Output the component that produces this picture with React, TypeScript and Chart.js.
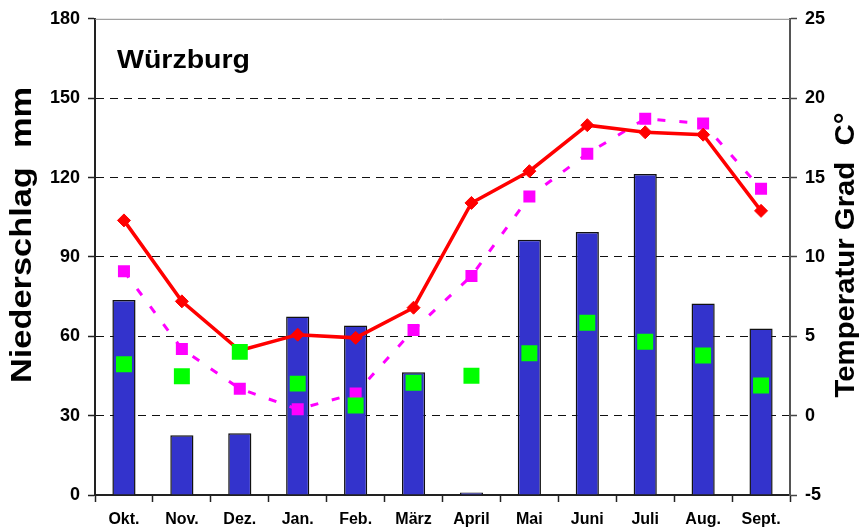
import React, { useEffect, useRef } from 'react';
import { Chart, registerables } from 'chart.js';

Chart.register(...registerables);

const months = ['Okt.', 'Nov.', 'Dez.', 'Jan.', 'Feb.', 'März', 'April', 'Mai', 'Juni', 'Juli', 'Aug.', 'Sept.'];
const niederschlag = [73.7, 22.6, 23.3, 67.5, 64.1, 46.4, 0.9, 96.5, 99.4, 121.3, 72.4, 62.9];
const niederschlagMittel = [49.4, 44.9, 54.1, 42.1, 33.8, 42.4, 45.1, 53.6, 65.1, 57.9, 52.7, 41.4];
const temperatur = [12.3, 7.2, 4.1, 5.1, 4.9, 6.8, 13.4, 15.4, 18.3, 17.85, 17.7, 12.9];
const temperaturMittel = [9.1, 4.2, 1.7, 0.4, 1.4, 5.4, 8.8, 13.8, 16.5, 18.7, 18.4, 14.3];

const stationName = 'Würzburg';
const leftTitle = 'Niederschlag  mm';
const rightTitle = 'Temperatur Grad  C°';

const FONT = '"Liberation Sans", Arial, sans-serif';

const titlePlugin = {
  id: 'customTitles',
  beforeDatasetsDraw(chart: any) {
    const ctx = chart.ctx;
    const a = chart.chartArea;
    ctx.save();
    ctx.strokeStyle = '#8a8a8a';
    ctx.lineWidth = 1;
    ctx.beginPath();
    ctx.moveTo(a.left, a.top + 0.5);
    ctx.lineTo(a.right, a.top + 0.5);
    ctx.stroke();
    ctx.restore();
  },
  afterDraw(chart: any) {
    const ctx = chart.ctx;
    const draw = (text: string, x: number, y: number, rot: number, size: number, targetLen: number, align: any, baseline: any) => {
      ctx.save();
      ctx.font = `bold ${size}px ${FONT}`;
      const w = ctx.measureText(text).width;
      ctx.translate(x, y);
      ctx.rotate(rot);
      ctx.scale(targetLen / w, 1);
      ctx.textAlign = align;
      ctx.textBaseline = baseline;
      ctx.fillStyle = '#000';
      ctx.fillText(text, 0, 0);
      ctx.restore();
    };
    draw(stationName, 117, 68, 0, 25, 133, 'left', 'alphabetic');
    draw(leftTitle, 23, 235, -Math.PI / 2, 30, 296, 'center', 'middle');
    draw(rightTitle, 846, 255, -Math.PI / 2, 28, 285, 'center', 'middle');
  },
};

export default function App() {
  const ref = useRef<HTMLCanvasElement | null>(null);

  useEffect(() => {
    if (!ref.current) return;
    const chart = new Chart(ref.current, {
      type: 'bar',
      data: {
        labels: months,
        datasets: [
          {
            type: 'line',
            label: 'Niederschlag Mittel',
            data: niederschlagMittel,
            yAxisID: 'y',
            showLine: false,
            pointStyle: 'rect',
            pointRadius: 11.3,
            pointBackgroundColor: '#00ff00',
            pointBorderWidth: 0,
            borderColor: '#00ff00',
            order: 0,
          } as any,
          {
            type: 'line',
            label: 'Temperatur',
            data: temperatur,
            yAxisID: 'y1',
            borderColor: '#ff0000',
            borderWidth: 3.5,
            tension: 0,
            pointStyle: 'rectRot',
            pointRadius: 6.5,
            pointBackgroundColor: '#ff0000',
            pointBorderColor: '#ff0000',
            pointBorderWidth: 1,
            order: 1,
          } as any,
          {
            type: 'line',
            label: 'Temperatur Mittel',
            data: temperaturMittel,
            yAxisID: 'y1',
            borderColor: '#ff00ff',
            borderWidth: 3,
            borderDash: [8, 14],
            tension: 0,
            pointStyle: 'rect',
            pointRadius: 8.5,
            pointBackgroundColor: '#ff00ff',
            pointBorderWidth: 0,
            order: 2,
          } as any,
          {
            type: 'bar',
            label: 'Niederschlag',
            data: niederschlag,
            yAxisID: 'y',
            backgroundColor: '#3333cc',
            borderColor: '#111111',
            borderWidth: 1.5,
            barPercentage: 0.4,
            categoryPercentage: 1,
            order: 3,
          } as any,
        ],
      },
      options: {
        responsive: false,
        animation: false,
        layout: { padding: { top: 17, left: 0, right: 0, bottom: 0 } },
        plugins: {
          legend: { display: false },
          tooltip: { enabled: false },
          title: { display: false },
        },
        scales: {
          x: {
            afterFit: (s: any) => { s.height = 36; },
            grid: {
              offset: true,
              drawOnChartArea: false,
              drawTicks: true,
              tickLength: 7,
              tickColor: '#222',
              tickWidth: 1.5,
            },
            border: { display: true, color: '#222', width: 2 },
            ticks: {
              color: '#000',
              padding: 8,
              font: { family: FONT, size: 16, weight: 'bold' },
              maxRotation: 0,
              autoSkip: false,
            },
          },
          y: {
            position: 'left',
            min: 0,
            max: 180,
            afterFit: (s: any) => { s.width = 95; },
            grid: {
              color: (c: any) => (c.tick && (c.tick.value === 0 || c.tick.value === 180) ? 'rgba(0,0,0,0)' : '#111'),
              lineWidth: 1,
              drawTicks: true,
              tickLength: 7,
              tickColor: '#222',
              tickWidth: 1.5,
            },
            border: { display: true, color: '#222', width: 2, dash: [8, 6] },
            ticks: {
              stepSize: 30,
              color: '#000',
              padding: 8,
              font: { family: FONT, size: 18, weight: 'bold' },
            },
          },
          y1: {
            position: 'right',
            min: -5,
            max: 25,
            afterFit: (s: any) => { s.width = 69; },
            grid: {
              drawOnChartArea: false,
              drawTicks: true,
              tickLength: 7,
              tickColor: '#444',
              tickWidth: 1.5,
            },
            border: { display: true, color: '#555', width: 2 },
            ticks: {
              stepSize: 5,
              color: '#000',
              padding: 8,
              font: { family: FONT, size: 18, weight: 'bold' },
            },
          },
        },
      } as any,
      plugins: [titlePlugin],
    });
    return () => chart.destroy();
  }, []);

  return (
    <canvas
      ref={ref}
      width={859}
      height={531}
      style={{ position: 'absolute', left: 0, top: 0, width: 859, height: 531, display: 'block', background: '#fff' }}
    />
  );
}
